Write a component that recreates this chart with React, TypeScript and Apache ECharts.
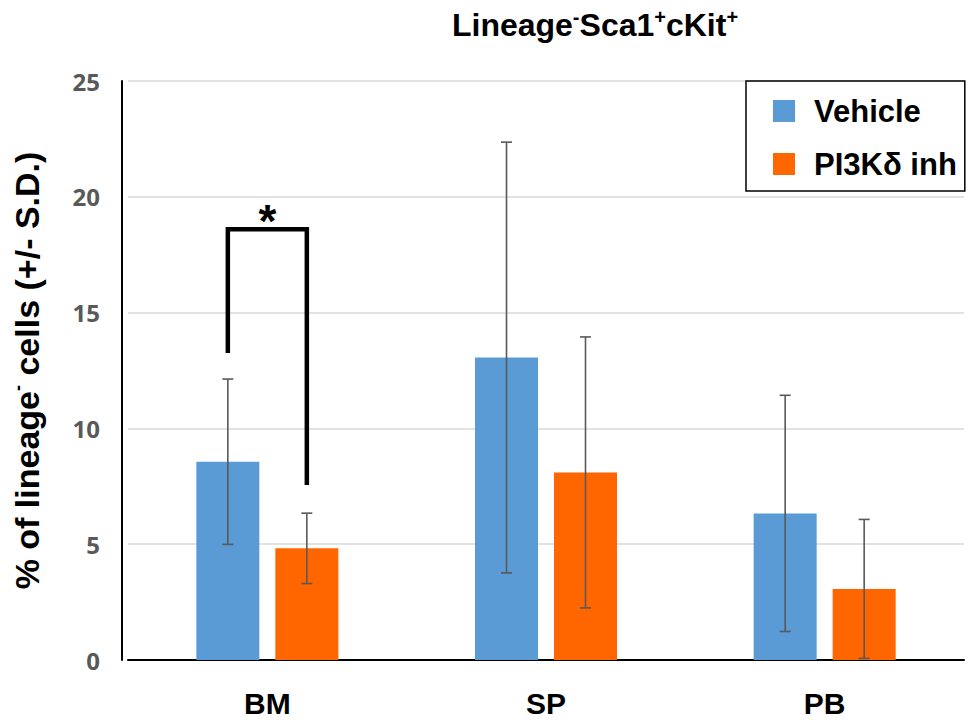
import React, { useEffect, useRef } from "react";
import * as echarts from "echarts";

const categories = ["BM", "SP", "PB"];
const seriesNames = ["Vehicle", "PI3Kδ inh"];
const vehicleMean = [8.56, 13.06, 6.33];
const vehicleSD = [3.57, 9.3, 5.1];
const inhMean = [4.82, 8.1, 3.07];
const inhSD = [1.52, 5.85, 3.0];
// significance bracket: category, left foot, top, right foot
const bracket = [[0, 13.26, 18.6, 7.56]];
const yTicks = [0, 5, 10, 15, 20, 25];

const BLUE = "#5B9BD5";
const ORANGE = "#FF6600";
const BAR_W = 63;
const GAP = 16;
const OFFSET = (BAR_W + GAP) / 2;
const FONT = "'Liberation Sans', Arial, sans-serif";

function errorRender(sign: number) {
  return (params: any, api: any) => {
    const c = api.value(0);
    const m = api.value(1);
    const sd = api.value(2);
    const x = api.coord([c, 0])[0] + sign * OFFSET;
    const yTop = api.coord([c, m + sd])[1];
    const yBot = api.coord([c, Math.max(0, m - sd)])[1];
    const st = { stroke: "#595959", lineWidth: 1.6 };
    return {
      type: "group",
      children: [
        { type: "line", shape: { x1: x, y1: yTop, x2: x, y2: yBot }, style: st },
        { type: "line", shape: { x1: x - 5.5, y1: yTop, x2: x + 5.5, y2: yTop }, style: st },
        { type: "line", shape: { x1: x - 5.5, y1: yBot, x2: x + 5.5, y2: yBot }, style: st },
      ],
    };
  };
}

export default function App() {
  const ref = useRef<HTMLDivElement>(null);
  useEffect(() => {
    if (!ref.current) return;
    const chart = echarts.init(ref.current, null, { renderer: "svg" });
    chart.setOption({
      animation: false,
      backgroundColor: "#fff",
      title: {
        text: "{m|Lineage}{s|-}{m|Sca1}{s|+}{m|cKit}{s|+}",
        left: 590,
        top: 2,
        textAlign: "center",
        textStyle: {
          rich: {
            m: { fontFamily: FONT, fontWeight: "bold", fontSize: 32, color: "#000", lineHeight: 36 },
            s: { fontFamily: FONT, fontWeight: "bold", fontSize: 20, color: "#000", verticalAlign: "top", lineHeight: 36, padding: [0, 0, 16, 0] },
          },
        },
      },
      legend: {
        orient: "vertical",
        left: 746,
        top: 81,
        padding: [14, 8, 11, 27],
        borderColor: "#000",
        borderWidth: 1.5,
        itemWidth: 22,
        itemHeight: 22,
        itemGap: 21,
        icon: "rect",
        data: seriesNames,
        textStyle: {
          fontFamily: FONT,
          fontWeight: "bold",
          fontSize: 31,
          color: "#000",
          padding: [0, 0, 0, 14],
          lineHeight: 32,
        },
      },
      grid: { left: 128, right: 16, top: 81, bottom: 63, containLabel: false },
      xAxis: {
        type: "category",
        data: categories,
        axisLine: { lineStyle: { color: "#000", width: 2 } },
        axisTick: { show: false },
        axisLabel: { fontFamily: FONT, fontWeight: "bold", fontSize: 30, color: "#000", margin: 28 },
      },
      yAxis: {
        type: "value",
        min: yTicks[0],
        max: yTicks[yTicks.length - 1],
        interval: 5,
        offset: 6,
        name: "{m|% of lineage}{s|-}{m| cells (+/- S.D.)}",
        nameLocation: "middle",
        nameGap: 77,
        nameRotate: 90,
        nameTextStyle: {
          rich: {
            m: { fontFamily: FONT, fontWeight: "bold", fontSize: 34, color: "#000", lineHeight: 36 },
            s: { fontFamily: FONT, fontWeight: "bold", fontSize: 18, color: "#000", verticalAlign: "top", lineHeight: 36, padding: [0, 0, 16, 0] },
          },
        },
        axisLine: { show: true, lineStyle: { color: "#000", width: 2 } },
        axisTick: { show: false },
        axisLabel: { fontFamily: "'Open Sans', sans-serif", fontWeight: "bold", fontSize: 24, color: "#595959", margin: 22 },
        splitLine: { lineStyle: { color: "#D9D9D9", width: 1.5 } },
      },
      series: [
        {
          name: seriesNames[0],
          type: "bar",
          data: vehicleMean,
          barWidth: BAR_W,
          barGap: (GAP / BAR_W) * 100 + "%",
          itemStyle: { color: BLUE },
        },
        {
          name: seriesNames[1],
          type: "bar",
          data: inhMean,
          barWidth: BAR_W,
          barGap: (GAP / BAR_W) * 100 + "%",
          itemStyle: { color: ORANGE },
        },
        {
          type: "custom",
          renderItem: errorRender(-1),
          data: vehicleMean.map((m, i) => [i, m, vehicleSD[i]]),
          encode: { x: 0, y: 1 },
          z: 5,
        },
        {
          type: "custom",
          renderItem: errorRender(1),
          data: inhMean.map((m, i) => [i, m, inhSD[i]]),
          encode: { x: 0, y: 1 },
          z: 5,
        },
        {
          type: "custom",
          data: bracket,
          encode: { x: 0, y: 2 },
          z: 6,
          renderItem: (params: any, api: any) => {
            const c = api.value(0);
            const cx = api.coord([c, 0])[0];
            const xl = cx - OFFSET;
            const xr = cx + OFFSET;
            const yl = api.coord([c, api.value(1)])[1];
            const yt = api.coord([c, api.value(2)])[1];
            const yr = api.coord([c, api.value(3)])[1];
            return {
              type: "group",
              children: [
                {
                  type: "polyline",
                  shape: { points: [[xl, yl], [xl, yt], [xr, yt], [xr, yr]] },
                  style: { stroke: "#000", lineWidth: 4.5, fill: null, lineJoin: "miter" },
                },
                {
                  type: "text",
                  x: cx,
                  y: yt - 8,
                  style: {
                    text: "*",
                    fontFamily: FONT,
                    fontWeight: "bold",
                    fontSize: 46,
                    fill: "#000",
                    align: "center",
                    verticalAlign: "middle",
                  },
                },
              ],
            };
          },
        },
      ],
    });
    return () => chart.dispose();
  }, []);
  return (
    <div
      ref={ref}
      style={{ position: "fixed", left: 0, top: 0, width: 980, height: 723 }}
    />
  );
}
